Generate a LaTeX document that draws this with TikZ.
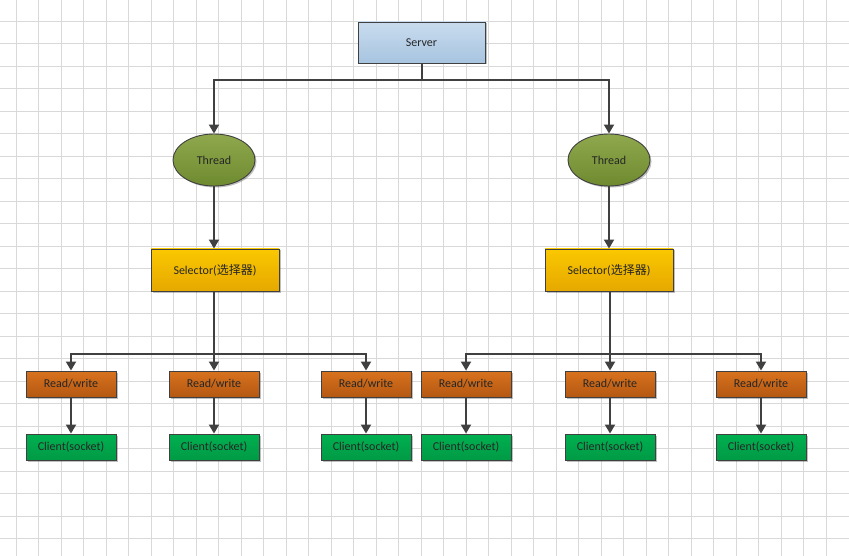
\documentclass[tikz,border=0pt]{standalone}
\usepackage{fontspec}
\setmainfont{Carlito}
\newfontfamily\cjk{Noto Sans CJK SC}
\usetikzlibrary{shapes.geometric,arrows.meta,shadows}
\definecolor{gridc}{HTML}{D9D9D9}
\definecolor{edgec}{HTML}{404040}
\tikzset{
  gridline/.style={draw=gridc,line width=0.9pt},
  basebox/.style={draw=edgec,line width=0.9pt,inner sep=0pt,
    font=\fontsize{12}{14}\selectfont,text=black!85,
    drop shadow={shadow xshift=1.5pt,shadow yshift=-1.5pt,opacity=0.25,fill=black}},
  serverbox/.style={basebox,rectangle,minimum width=127pt,minimum height=41pt,
    top color=HTML1,bottom color=HTML2},
  threadnode/.style={basebox,ellipse,minimum width=82pt,minimum height=52pt,
    top color=thA,bottom color=thB},
  selbox/.style={basebox,rectangle,minimum width=128pt,minimum height=42pt,
    top color=seA,bottom color=seB},
  rwbox/.style={basebox,rectangle,minimum width=90pt,minimum height=26pt,
    top color=rwA,bottom color=rwB},
  clbox/.style={basebox,rectangle,minimum width=90pt,minimum height=26pt,
    top color=clA,bottom color=clB},
  conn/.style={draw=edgec,line width=2pt,-{Triangle[width=10pt,length=9pt]}},
  plainconn/.style={draw=edgec,line width=2pt}
}
\definecolor{HTML1}{HTML}{C9DCEE}
\definecolor{HTML2}{HTML}{A7C4E0}
\definecolor{thA}{HTML}{8FA84E}
\definecolor{thB}{HTML}{6E8A2F}
\definecolor{seA}{HTML}{FAC800}
\definecolor{seB}{HTML}{E6A800}
\definecolor{rwA}{HTML}{D8721E}
\definecolor{rwB}{HTML}{B45812}
\definecolor{clA}{HTML}{00B050}
\definecolor{clB}{HTML}{009A45}
\begin{document}
\begin{tikzpicture}[x=1pt,y=-1pt]
\useasboundingbox (0,0) rectangle (849,556);
\fill[white] (0,0) rectangle (849,556);
\foreach \i in {0,...,36} \draw[gridline] ({16+22.5*\i},0) -- ({16+22.5*\i},556);
\foreach \j in {0,...,23} \draw[gridline] (0,{21+22.5*\j}) -- (849,{21+22.5*\j});

\node[serverbox] (server) at (421.5,42.5) {Server};
\node[threadnode] (t1) at (214,160) {Thread};
\node[threadnode] (t2) at (609,160) {Thread};
\node[selbox] (s1) at (215,270) {Selector({\cjk 选择器})};
\node[selbox] (s2) at (609,270) {Selector({\cjk 选择器})};

\foreach \n/\x in {1/71,2/214,3/366,4/466,5/610,6/761}{
  \node[rwbox] (rw\n) at (\x,384) {Read/write};
  \node[clbox] (cl\n) at (\x,447) {Client(socket)};
}

\coordinate (sj) at (421.5,80);
\draw[plainconn] (server.south) -- (sj);
\draw[conn] (sj) -| (t1.north);
\draw[conn] (sj) -| (t2.north);
\draw[conn] (t1.south) -- (s1.north -| t1.south);
\draw[conn] (t2.south) -- (s2.north -| t2.south);

\coordinate (b1) at (214,354);
\coordinate (b2) at (610,354);
\draw[plainconn] (s1.south -| b1) -- (b1);
\draw[plainconn] (s2.south -| b2) -- (b2);
\draw[conn] (b1) -| (rw1.north);
\draw[conn] (b1) -- (rw2.north);
\draw[conn] (b1) -| (rw3.north);
\draw[conn] (b2) -| (rw4.north);
\draw[conn] (b2) -- (rw5.north);
\draw[conn] (b2) -| (rw6.north);
\foreach \n in {1,...,6} \draw[conn] (rw\n.south) -- (cl\n.north);
\end{tikzpicture}
\end{document}
